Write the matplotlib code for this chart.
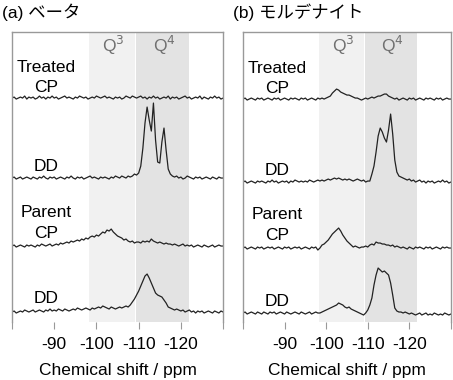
import numpy as np
import matplotlib
matplotlib.use("Agg")
import matplotlib.pyplot as plt

plt.rcParams['font.family'] = ['Liberation Sans', 'Noto Sans CJK JP', 'DejaVu Sans']

# chemical shift axis, -80 ... -130 ppm in 0.5 ppm steps
shift = np.arange(-80.0, -130.25, -0.5)

# (a) beta: intensities (arbitrary units, baseline = 0)
beta_treated_cp = [0, 1, -1, 0, 1, 0, 2, -1, 1, 0,
                   1, -1, 0, 2, 0, 1, -1, 1, 0, 2,
                   0, 1, -1, 0, 1, 2, 0, 1, 0, -1,
                   1, 0, 2, 1, 0, 1, -1, 0, 1, 0,
                   2, 1, 0, 1, 2, 0, 1, 0, -1, 1,
                   0, 1, -1, 0, 2, 1, 0, 2, 1, 0,
                   1, 2, 0, 1, -1, 1, 0, 2, 0, 1,
                   -1, 0, 1, 0, 2, -1, 1, 0, 1, -1,
                   0, 1, 2, 0, 1, -1, 0, 1, 0, 2,
                   -1, 1, 0, -1, 1, 0, 2, 0, 1, -1,
                   0]
beta_treated_dd = [0, 1, -1, 0, 1, -1, 0, 1, 0, -1,
                   1, 0, -1, 1, 0, 2, 0, -1, 1, 0,
                   1, -1, 0, 1, 0, -1, 1, 0, 2, 0,
                   -1, 1, 0, 1, -1, 0, 1, 2, 0, 1,
                   0, -1, 1, 0, 1, 0, -1, 1, 0, 2,
                   1, 0, 2, 1, 0, 2, 1, 2, 4, 3,
                   5, 12, 30, 55, 71, 58, 47, 75, 38, 16,
                   15, 36, 50, 28, 9, 4, 2, 1, 2, 0,
                   1, -1, 0, 2, 1, 0, -1, 1, 0, 1,
                   -1, 0, 1, 0, -1, 1, 0, -1, 1, 0,
                   0]
beta_parent_cp = [0, 1, -1, 0, 1, 0, -1, 1, 0, 1,
                  0, -1, 1, 0, 2, 1, 0, 1, 2, 0,
                  1, 2, 1, 3, 2, 3, 4, 3, 5, 4,
                  5, 6, 5, 7, 6, 8, 7, 9, 10, 9,
                  11, 10, 12, 14, 13, 16, 15, 17, 14, 12,
                  10, 9, 8, 6, 7, 5, 4, 5, 3, 4,
                  4, 3, 5, 4, 5, 4, 7, 5, 4, 3,
                  4, 3, 2, 3, 2, 2, 1, 2, 1, 0,
                  1, 2, 0, 1, 0, 1, -1, 0, 1, 0,
                  -1, 1, 0, -1, 0, 1, -1, 0, 1, 0,
                  0]
beta_parent_dd = [0, 1, -1, 0, 1, 0, 2, 1, 0, 1,
                  2, 0, 1, 2, 1, 0, 2, 1, 3, 1,
                  2, 1, 3, 2, 1, 3, 2, 1, 2, 3,
                  2, 4, 3, 2, 3, 4, 3, 2, 4, 3,
                  4, 5, 4, 6, 5, 4, 3, 5, 4, 3,
                  4, 5, 4, 5, 6, 5, 7, 10, 13, 17,
                  21, 26, 31, 36, 38, 34, 29, 24, 19, 17,
                  16, 15, 12, 9, 5, 4, 3, 2, 3, 2,
                  1, 2, 0, 1, 2, 0, 1, -1, 1, 0,
                  1, -1, 0, 1, 0, -1, 1, 0, -1, 1,
                  0]

# (b) mordenite
mor_treated_cp = [0, 1, -1, 0, 1, 0, -1, 1, 0, 1,
                  -1, 0, 1, 0, -1, 1, 0, 1, -1, 0,
                  1, 0, -1, 1, 0, 1, 0, -1, 1, 0,
                  1, -1, 0, 1, 0, -1, 1, 0, 1, 0,
                  1, 2, 3, 6, 8, 10, 9, 7, 6, 5,
                  4, 4, 3, 2, 1, 1, 0, -1, 0, 1,
                  0, 1, 2, 1, 2, 3, 3, 4, 5, 5,
                  3, 2, 1, 0, 1, -1, 0, 1, 0, -1,
                  1, 0, 1, -1, 0, 1, 0, -1, 1, 0,
                  1, 0, -1, 1, 0, 1, -1, 0, 1, 0,
                  0]
mor_treated_dd = [0, 1, -1, 0, 1, 0, -1, 1, 0, 1,
                  0, -1, 1, 0, 2, 0, 1, -1, 0, 1,
                  0, 1, -1, 1, 0, 2, 1, 0, 1, 0,
                  1, 0, 2, 1, 0, 1, 2, 1, 2, 1,
                  2, 3, 2, 3, 4, 3, 4, 3, 2, 3,
                  2, 3, 2, 1, 2, 3, 2, 1, 2, 0,
                  1, 1, 8, 16, 30, 46, 54, 50, 44, 40,
                  52, 68, 48, 22, 10, 6, 5, 4, 3, 2,
                  3, 1, 2, 0, 1, 2, 0, 1, -1, 1,
                  0, 1, -1, 0, 1, 0, 2, 0, 1, -1,
                  0]
mor_parent_cp = [0, 1, -1, 0, 1, 0, -1, 1, 0, 1,
                 -1, 0, 1, 0, 1, -1, 0, 1, 0, -1,
                 1, 0, 1, -1, 0, 1, 0, 1, -1, 0,
                 1, 0, -1, 1, 0, 1, -2, 0, 3, 4,
                 6, 8, 11, 14, 16, 18, 20, 17, 13, 10,
                 7, 5, 3, 1, 2, 1, 0, 1, 1, 2,
                 1, 3, 4, 3, 6, 5, 5, 4, 4, 3,
                 3, 2, 3, 1, 2, 1, 0, 1, 0, -1,
                 1, 0, -1, 1, 0, 1, 0, -1, 1, 0,
                 1, -1, 0, 1, 0, -1, 1, 0, 1, 0,
                 0]
mor_parent_dd = [2, 3, 1, 2, 3, 2, 1, 3, 2, 1,
                 3, 2, 1, 3, 2, 3, 1, 2, 3, 2,
                 1, 3, 2, 1, 2, 3, 2, 1, 3, 2,
                 1, 2, 3, 1, 2, 3, 2, 2, 3, 4,
                 5, 6, 7, 8, 9, 10, 12, 11, 10, 8,
                 7, 8, 6, 5, 4, 3, 2, 1, 0, 2,
                 5, 10, 17, 30, 40, 47, 45, 43, 44, 42,
                 40, 32, 20, 7, 4, 3, 3, 2, 3, 2,
                 1, 2, 1, 0, 1, 2, 0, 1, 2, 0,
                 1, 0, 2, 1, 0, 1, 0, 2, 1, 0,
                 1]

panels = [
    ("(a) ベータ", [beta_treated_cp, beta_treated_dd, beta_parent_cp, beta_parent_dd],
     [224, 144, 76, 10], [0.0265, 0.1526, 0.466, 0.763]),
    ("(b) モルデナイト", [mor_treated_cp, mor_treated_dd, mor_parent_cp, mor_parent_dd],
     [223, 140, 74, 7], [0.5364, 0.1526, 0.459, 0.763]),
]

fig = plt.figure(figsize=(4.53, 3.80), dpi=100)
fs = 12.5
frame = '#999999'

for title, traces, offsets, rect in panels:
    ax = fig.add_axes(rect)
    ax.axvspan(-98.3, -109.1, color='#f1f1f1', lw=0)
    ax.axvspan(-109.4, -121.9, color='#e3e3e3', lw=0)
    for y, off in zip(traces, offsets):
        ax.plot(shift, np.array(y) + off, color='#222222', lw=0.9)
    ax.set_xlim(-80, -130)
    ax.set_ylim(0, 290)
    ax.set_yticks([])
    ax.set_xticks([-80, -90, -100, -110, -120, -130])
    ax.set_xticklabels(['', '-90', '-100', '-110', '-120', ''])
    ax.tick_params(axis='x', direction='out', length=5, width=0.8, color=frame,
                   labelsize=fs, pad=6)
    for s in ['left', 'right', 'top']:
        ax.spines[s].set_color(frame)
        ax.spines[s].set_linewidth(1.0)
    ax.spines['bottom'].set_visible(False)
    ax.set_xlabel('Chemical shift / ppm', fontsize=fs, labelpad=8)

    ax.text(-104, 277, 'Q$^3$', color='#707070', fontsize=fs, ha='center', va='center')
    ax.text(-116, 277, 'Q$^4$', color='#707070', fontsize=fs, ha='center', va='center')
    ax.text(-88.2, offsets[0] + 31, 'Treated', fontsize=fs, ha='center', va='center')
    ax.text(-88.2, offsets[0] + 11, 'CP', fontsize=fs, ha='center', va='center')
    ax.text(-88.2, offsets[1] + 12, 'DD', fontsize=fs, ha='center', va='center')
    ax.text(-88.2, offsets[2] + 34, 'Parent', fontsize=fs, ha='center', va='center')
    ax.text(-88.2, offsets[2] + 13, 'CP', fontsize=fs, ha='center', va='center')
    ax.text(-88.2, offsets[3] + 14, 'DD', fontsize=fs, ha='center', va='center')

    fig.text(rect[0] - 0.022, 1 - 12 / 380, title, fontsize=fs, ha='left', va='center')

fig.savefig('out.png', dpi=100)
